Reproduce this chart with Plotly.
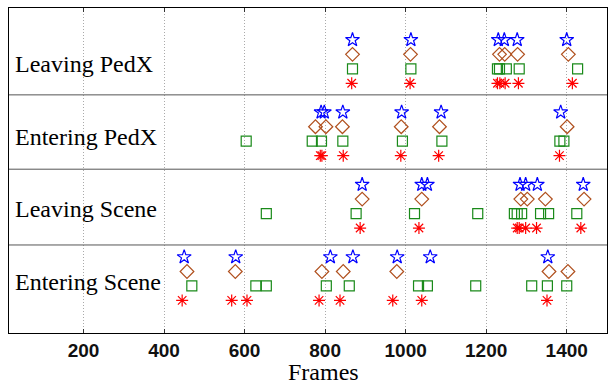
import plotly.graph_objects as go

# Event rows (bottom to top)
row_names = ["Entering Scene", "Leaving Scene", "Entering PedX", "Leaving PedX"]
row_pos = [1, 2, 3, 4]

# Detected frames per method, per row (Entering Scene, Leaving Scene, Entering PedX, Leaving PedX)
star_frames = [
    [450, 578, 813, 869, 979, 1061, 1353],
    [892, 1040, 1054, 1284, 1298, 1327, 1441],
    [790, 798, 844, 990, 1088, 1385],
    [868, 1013, 1230, 1245, 1277, 1400],
]
diamond_frames = [
    [457, 577, 792, 845, 978, 1356, 1403],
    [892, 1040, 1286, 1302, 1347, 1443],
    [776, 802, 843, 989, 1084, 1401],
    [868, 1012, 1233, 1246, 1278, 1404],
]
square_frames = [
    [469, 628, 654, 803, 860, 1032, 1054, 1174, 1313, 1352, 1400],
    [654, 877, 1022, 1179, 1270, 1277, 1288, 1335, 1355, 1425],
    [604, 768, 791, 844, 992, 1090, 1383, 1393],
    [868, 1013, 1228, 1233, 1250, 1282, 1427],
]
asterisk_frames = [
    [445, 568, 606, 785, 837, 968, 1040, 1351],
    [887, 1033, 1277, 1282, 1298, 1325, 1435],
    [788, 792, 845, 988, 1082, 1382],
    [866, 1011, 1228, 1234, 1247, 1280, 1414],
]

x_ticks = [200, 400, 600, 800, 1000, 1200, 1400]
separators = [1.466, 2.513, 3.54]

methods = [
    (star_frames, 0.3, "star-open", "#0000ff", 10.5),
    (diamond_frames, 0.1, "diamond-open", "#b0501e", 10.5),
    (square_frames, -0.1, "square-open", "#1a8a1a", 10),
    (asterisk_frames, -0.3, "asterisk-open", "#ff0000", 10),
]

fig = go.Figure()
for frames, off, sym, col, size in methods:
    xs, ys = [], []
    for r, fr in zip(row_pos, frames):
        xs += fr
        ys += [r + off] * len(fr)
    fig.add_trace(go.Scatter(
        x=xs, y=ys, mode="markers",
        marker=dict(symbol=sym, size=size, color=col, line=dict(color=col, width=1.2)),
        showlegend=False, hoverinfo="x",
    ))

for s in separators:
    fig.add_shape(type="line", xref="paper", x0=0, x1=1, yref="y", y0=s, y1=s,
                  line=dict(color="#555555", width=1))

for name, r in zip(row_names, row_pos):
    fig.add_annotation(x=25, y=r - 0.04, xref="x", yref="y", text=name, showarrow=False,
                       xanchor="left", yanchor="middle",
                       font=dict(family="Liberation Serif", size=24, color="black"))

fig.add_annotation(x=797, y=-0.121, xref="x", yref="paper", text="Frames", showarrow=False,
                   xanchor="center", yanchor="middle",
                   font=dict(family="Liberation Serif", size=24, color="black"))

fig.update_layout(
    width=609, height=384,
    margin=dict(l=9, r=2, t=8, b=51, autoexpand=False),
    paper_bgcolor="white", plot_bgcolor="white",
    xaxis=dict(range=[15, 1500], tickvals=x_ticks, ticktext=[str(t) for t in x_ticks],
               showgrid=True, griddash="1px,2px", gridcolor="#aaaaaa", gridwidth=1,
               showline=True, linecolor="black", linewidth=1, mirror="ticks",
               ticks="inside", ticklen=4, tickcolor="#333333", zeroline=False,
               automargin=False,
               tickfont=dict(family="Liberation Sans", size=19, color="#111111", weight="bold")),
    yaxis=dict(range=[0.25, 4.74], showticklabels=False, showgrid=False, zeroline=False,
               automargin=False,
               showline=True, linecolor="black", linewidth=1, mirror=True, ticks=""),
)

fig.write_html("out.html", config={"displayModeBar": False},
               post_script="document.body.style.margin='0';document.body.style.overflow='hidden';")
